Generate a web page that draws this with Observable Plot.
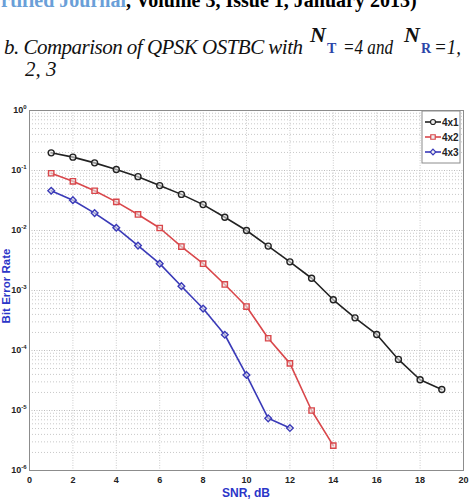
<!DOCTYPE html>
<html>
<head>
<meta charset="utf-8">
<script src="https://cdn.jsdelivr.net/npm/d3@7"></script>
<script src="https://cdn.jsdelivr.net/npm/@observablehq/plot@0.6"></script>
<style>
  html, body { margin: 0; padding: 0; background: #fff; width: 470px; height: 502px; overflow: hidden; }
  #head { position: absolute; left: 0; top: 0; }
  #chart { position: absolute; left: 0; top: 100px; }
</style>
</head>
<body>
<svg id="head" width="470" height="100"></svg>
<div id="chart"></div>
<script>
// ---- data ----
const snr4x1 = [1,2,3,4,5,6,7,8,9,10,11,12,13,14,15,16,17,18,19];
const ber4x1 = [0.197,0.167,0.134,0.104,0.079,0.056,0.040,0.027,0.0166,0.0100,0.0055,0.0030,0.0016,7.0e-4,3.5e-4,1.85e-4,7.1e-5,3.25e-5,2.24e-5];
const snr4x2 = [1,2,3,4,5,6,7,8,9,10,11,12,13,14];
const ber4x2 = [0.090,0.066,0.046,0.030,0.0185,0.011,0.0054,0.0028,0.00126,5.4e-4,1.6e-4,6.1e-5,1.0e-5,2.6e-6];
const snr4x3 = [1,2,3,4,5,6,7,8,9,10,11,12];
const ber4x3 = [0.046,0.032,0.0195,0.0111,0.0056,0.0028,0.00118,5.0e-4,1.83e-4,3.9e-5,7.4e-6,5.1e-6];
const seriesNames = ["4x1","4x2","4x3"];
const seriesColors = ["#222222","#d9474b","#3a3ab8"];
const seriesSymbols = ["circle","square","diamond2"];
const xTicks = [0,2,4,6,8,10,12,14,16,18,20];
const yTicks = [1e-6,1e-5,1e-4,1e-3,1e-2,1e-1,1];
const yTickExponents = ["-6","-5","-4","-3","-2","-1","0"];

const rows = [
  ...snr4x1.map((s,i)=>({snr:s, ber:ber4x1[i], series:"4x1"})),
  ...snr4x2.map((s,i)=>({snr:s, ber:ber4x2[i], series:"4x2"})),
  ...snr4x3.map((s,i)=>({snr:s, ber:ber4x3[i], series:"4x3"}))
];
const minorY = yTicks.slice(0,-1).flatMap(d => [2,3,4,5,6,7,8,9].map(m => m*d));

// ---- header text ----
const head = d3.select("#head");
const l1 = head.append("text").attr("x",1).attr("y",7)
  .style("font-family","'Liberation Serif', serif").style("font-weight","bold").style("font-size","20px");
l1.append("tspan").attr("fill","#6a9fd8").text("rtified Journal");
l1.append("tspan").attr("fill","#000").text(", Volume 3, Issue 1, January 2013)");

const it = s => s.style("font-family","'Liberation Serif', serif").style("font-style","italic");
it(head.append("text").attr("x",4).attr("y",54).style("font-size","21px").attr("fill","#111")
  .attr("textLength",299).text("b. Comparison of QPSK OSTBC with"));
// N_T
it(head.append("text").attr("x",310).attr("y",42).style("font-size","22px").style("font-weight","bold").attr("fill","#111").text("N"));
head.append("text").attr("x",327).attr("y",53).style("font-family","'Liberation Serif', serif").style("font-size","14px").style("font-weight","bold").attr("fill","#2a45a8").text("T");
it(head.append("text").attr("x",343).attr("y",54).style("font-size","21px").attr("fill","#111")
  .attr("textLength",50).attr("lengthAdjust","spacingAndGlyphs").text("=4 and"));
// N_R
it(head.append("text").attr("x",404).attr("y",42).style("font-size","22px").style("font-weight","bold").attr("fill","#111").text("N"));
head.append("text").attr("x",421).attr("y",53).style("font-family","'Liberation Serif', serif").style("font-size","14px").style("font-weight","bold").attr("fill","#2a45a8").text("R");
it(head.append("text").attr("x",434).attr("y",54).style("font-size","21px").attr("fill","#111")
  .attr("textLength",27).attr("lengthAdjust","spacingAndGlyphs").text("=1,"));
it(head.append("text").attr("x",25).attr("y",76).style("font-size","21px").attr("fill","#111").text("2, 3"));

// ---- chart ----
const chart = Plot.plot({
  width: 470,
  height: 402,
  marginTop: 10,
  marginBottom: 32,
  marginLeft: 29,
  marginRight: 7,
  style: {fontFamily: "'Liberation Sans', Arial, sans-serif", fontSize: "9px", fontWeight: "bold", background: "#fff", color: "#222"},
  x: {domain: [0,20], ticks: xTicks, tickSize: 0, tickPadding: 6, label: null},
  y: {type: "log", domain: [1e-6,1], ticks: yTicks, tickSize: 0, tickPadding: 3, label: null,
      tickFormat: d => yTickExponents[yTicks.indexOf(d)] ?? ""},
  color: {domain: seriesNames, range: seriesColors},
  symbol: {domain: seriesNames, range: seriesSymbols},
  marks: [
    Plot.ruleY(minorY, {stroke: "#c8c8c8", strokeDasharray: "1,2", strokeWidth: 1}),
    Plot.ruleY(yTicks, {stroke: "#bcbcbc", strokeDasharray: "1,1.5", strokeWidth: 1}),
    Plot.ruleX(xTicks, {stroke: "#cccccc", strokeDasharray: "1,1.5", strokeWidth: 1}),
    Plot.frame({stroke: "#8c8c8c"}),
    Plot.line(rows, {x: "snr", y: "ber", z: "series", stroke: "series", strokeWidth: 1.6}),
    Plot.dot(rows, {x: "snr", y: "ber", stroke: "series", symbol: "series", fill: "#e8e8e8", fillOpacity: 0.6, r: 3, strokeWidth: 1.4})
  ]
});
document.getElementById("chart").appendChild(chart);

const svg = d3.select(chart);
// y tick labels as 10 with a raised exponent
svg.selectAll('g[aria-label="y-axis tick label"] text').each(function() {
  const e = this.textContent;
  const t = d3.select(this);
  t.text("10");
  t.append("tspan").attr("dy","-4").style("font-size","6px").text(e);
});

// axis titles & legend
svg.append("text").attr("x", 246).attr("y", 397).attr("text-anchor","middle")
  .style("font-family","'Liberation Sans', Arial, sans-serif").style("font-weight","bold").style("font-size","12px")
  .attr("fill","#2b35c8").text("SNR, dB");
svg.append("text").attr("transform","translate(10,186) rotate(-90)").attr("text-anchor","middle")
  .style("font-family","'Liberation Sans', Arial, sans-serif").style("font-weight","bold").style("font-size","11.5px")
  .attr("fill","#2b35c8").text("Bit Error Rate");

const lg = svg.append("g");
lg.append("rect").attr("x",422).attr("y",11).attr("width",38).attr("height",52)
  .attr("fill","#fff").attr("stroke","#8c8c8c");
const d3sym = {circle: d3.symbolCircle, square: d3.symbolSquare, diamond2: d3.symbolDiamond2};
seriesNames.forEach((n,i) => {
  const y = 22 + i*15;
  lg.append("line").attr("x1",425).attr("x2",441).attr("y1",y).attr("y2",y)
    .attr("stroke",seriesColors[i]).attr("stroke-width",1.6);
  lg.append("path").attr("d", d3.symbol(d3sym[seriesSymbols[i]], 20)())
    .attr("transform",`translate(433,${y})`).attr("fill","#eee").attr("stroke",seriesColors[i]).attr("stroke-width",1.2);
  lg.append("text").attr("x",442).attr("y",y+3.5).attr("text-anchor","start")
    .style("font-family","'Liberation Sans', Arial, sans-serif").style("font-weight","bold").style("font-size","10px")
    .attr("fill","#222").text(n);
});
</script>
</body>
</html>
